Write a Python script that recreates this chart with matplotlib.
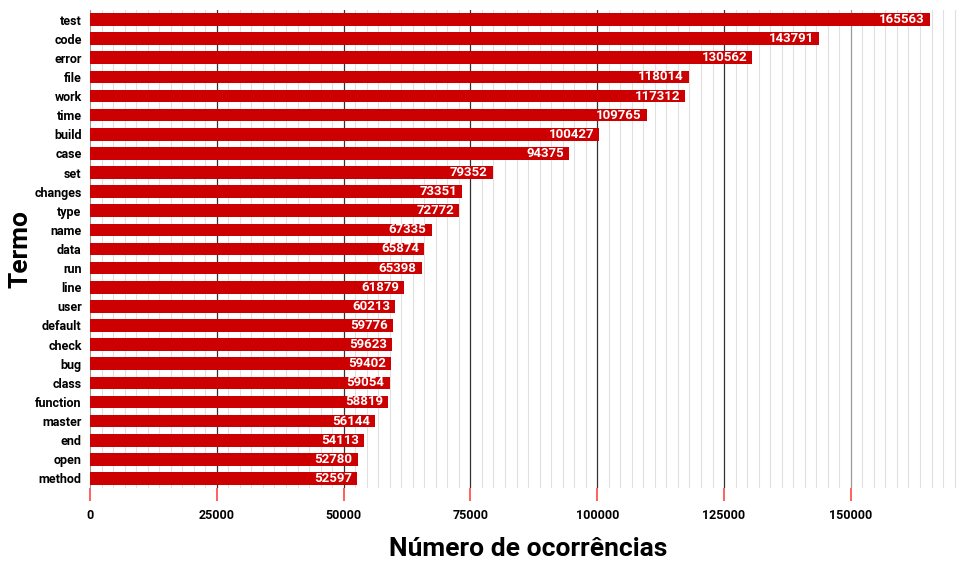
import matplotlib.pyplot as plt
import numpy as np

termos = ['test', 'code', 'error', 'file', 'work', 'time', 'build', 'case', 'set',
          'changes', 'type', 'name', 'data', 'run', 'line', 'user', 'default', 'check',
          'bug', 'class', 'function', 'master', 'end', 'open', 'method']
ocorrencias = [165563, 143791, 130562, 118014, 117312, 109765, 100427, 94375, 79352,
               73351, 72772, 67335, 65874, 65398, 61879, 60213, 59776, 59623,
               59402, 59054, 58819, 56144, 54113, 52780, 52597]
major_ticks = [0, 25000, 50000, 75000, 100000, 125000, 150000]

plt.rcParams['font.family'] = ['Roboto', 'DejaVu Sans']

fig = plt.figure(figsize=(9.69, 5.62), dpi=100)
ax = fig.add_axes([90 / 969, 1 - 488 / 562, (966 - 90) / 969, (488 - 10) / 562])

y = np.arange(len(termos))
ax.barh(y, ocorrencias, height=0.66, color='#cc0000', zorder=3)

# labels inside the end of each bar
for yi, v in zip(y, ocorrencias):
    ax.text(v - 1000, yi, str(v), color='white', fontweight='bold', fontsize=9.5,
            ha='right', va='center', zorder=4)

ax.set_ylim(len(termos) - 0.5, -0.5)
ax.set_xlim(0, 172700)

# minor grid: 10 lines between major ticks
minor = np.arange(0, 172700, 25000 / 11)
ax.set_xticks(minor, minor=True)
ax.set_xticks(major_ticks)
ax.set_xticklabels([str(t) for t in major_ticks], fontweight='bold', fontsize=9)
ax.tick_params(axis='x', which='minor', length=0)
ax.tick_params(axis='x', which='major', length=9, color='#ff4444', width=1.2, pad=6)
ax.grid(axis='x', which='minor', color='#e0e0e0', linewidth=0.8, zorder=0)
for t in major_ticks[1:]:
    c = '#999999' if t == 150000 else '#333333'
    ax.axvline(t, color=c, linewidth=0.9, zorder=1)

ax.set_yticks(y)
ax.set_yticklabels(termos, fontweight='bold', fontsize=9)
ax.tick_params(axis='y', length=0, pad=6)

for s in ['top', 'right', 'bottom']:
    ax.spines[s].set_visible(False)
ax.spines['left'].set_color('#999999')

ax.set_xlabel('Número de ocorrências', fontsize=19, fontweight='bold', labelpad=11)
ax.set_ylabel('Termo', fontsize=19, fontweight='bold', labelpad=1)

fig.savefig('out.png', dpi=100)
